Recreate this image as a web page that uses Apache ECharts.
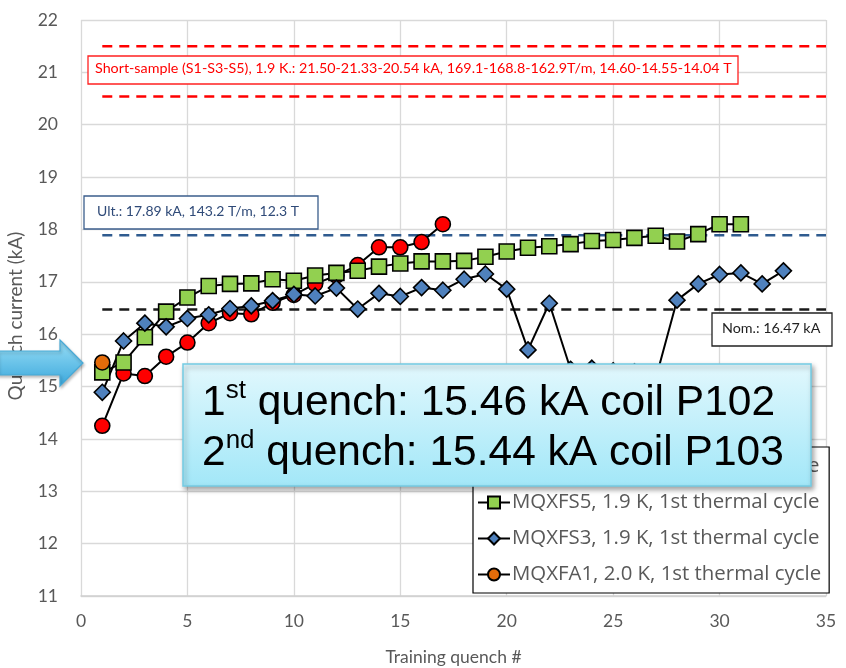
<!DOCTYPE html>
<html>
<head>
<meta charset="utf-8">
<script src="https://cdn.jsdelivr.net/npm/echarts@6/dist/echarts.min.js"></script>
<style>
  html, body { margin: 0; padding: 0; background: #fff; }
  #chart { width: 846px; height: 668px; }
</style>
</head>
<body>
<div id="chart"></div>
<script>
// Training quench currents (kA), one entry per quench, quench # = index + 1
const mqxfs1 = [14.25, 15.25, 15.20, 15.57, 15.84, 16.21, 16.40, 16.38, 16.60, 16.75,
                16.96, 17.12, 17.32, 17.66, 17.66, 17.76, 18.10];
const mqxfs5 = [15.27, 15.46, 15.94, 16.43, 16.70, 16.92, 16.96, 16.97, 17.05, 17.02,
                17.12, 17.17, 17.21, 17.29, 17.35, 17.39, 17.39, 17.40, 17.48, 17.58,
                17.65, 17.68, 17.72, 17.78, 17.80, 17.84, 17.88, 17.77, 17.91, 18.10,
                18.10];
const mqxfs3 = [14.89, 15.87, 16.21, 16.14, 16.30, 16.37, 16.49, 16.54, 16.64, 16.76,
                16.73, 16.88, 16.48, 16.78, 16.72, 16.89, 16.84, 17.05, 17.15, 16.86,
                15.70, 16.59, 15.33, 15.35, 15.30, 15.28, 15.15, 16.65, 16.96, 17.14,
                17.17, 16.96, 17.21];
const mqxfa1 = [15.46];

const seriesNames = [
  'MQXFS1, 1.9 K, 1st thermal cycle',
  'MQXFS5, 1.9 K, 1st thermal cycle',
  'MQXFS3, 1.9 K, 1st thermal cycle',
  'MQXFA1, 2.0 K, 1st thermal cycle'
];

// Reference levels (kA)
const shortSampleLevels = [21.50, 20.54];
const ultimateLevel = 17.89;
const nominalLevel = 16.47;
const refStart = 1, refEnd = 35;

const xTicks = { min: 0, max: 35, interval: 5 };
const yTicks = { min: 11, max: 22, interval: 1 };

const FONT = 'Lato, "Open Sans", sans-serif';
const LEGEND_FONT = '"Open Sans", Lato, sans-serif';
const GREY = '#595959';

function toPoints(values) {
  return values.map((v, i) => [i + 1, v]);
}

function refLine(level, color) {
  return {
    type: 'line',
    data: [[refStart, level], [refEnd, level]],
    symbol: 'none',
    silent: true,
    lineStyle: { color: color, width: 2.5, type: [10, 7] },
    z: 1
  };
}

function quenchSeries(name, values, symbol, size, fill) {
  return {
    name: name,
    type: 'line',
    data: toPoints(values),
    symbol: symbol,
    symbolSize: size,
    showAllSymbol: true,
    lineStyle: { color: '#000', width: 2 },
    itemStyle: { color: fill, borderColor: '#000', borderWidth: 1.6 },
    z: 3
  };
}

const chart = echarts.init(document.getElementById('chart'), null, { renderer: 'canvas' });

const option = {
  animation: false,
  backgroundColor: '#fff',
  grid: { left: 81, right: 20, top: 20, bottom: 72, containLabel: false, outerBoundsMode: 'none' },
  xAxis: {
    type: 'value',
    min: xTicks.min, max: xTicks.max, interval: xTicks.interval,
    name: 'Training quench #',
    nameLocation: 'middle',
    nameGap: 52,
    nameTextStyle: { color: GREY, fontSize: 17.5, fontFamily: FONT },
    axisLine: { show: true, lineStyle: { color: '#d0d0d0', width: 1.5 } },
    axisTick: { show: false },
    axisLabel: { color: GREY, fontSize: 17.5, fontFamily: FONT, margin: 16 },
    splitLine: { show: true, lineStyle: { color: '#d9d9d9', width: 1.3 } }
  },
  yAxis: {
    type: 'value',
    min: yTicks.min, max: yTicks.max, interval: yTicks.interval,
    name: 'Quench current (kA)',
    nameLocation: 'middle',
    nameGap: 56,
    nameTextStyle: { color: GREY, fontSize: 19, fontFamily: FONT, padding: [0, 16, 0, 0] },
    axisLine: { show: false },
    axisTick: { show: false },
    axisLabel: { color: GREY, fontSize: 17.5, fontFamily: FONT, margin: 23 },
    splitLine: { show: true, lineStyle: { color: '#d9d9d9', width: 1.3 } }
  },
  legend: {
    orient: 'vertical',
    left: 473,
    top: 447,
    data: seriesNames,
    itemWidth: 32,
    itemHeight: 15,
    itemGap: 15,
    padding: [9, 8, 8, 4],
    backgroundColor: '#fff',
    borderColor: '#000',
    borderWidth: 1.2,
    textStyle: { color: GREY, fontSize: 20.4, fontFamily: LEGEND_FONT, lineHeight: 21, padding: [0, 0, 0, -3] },
    selectedMode: false,
    z: 5
  },
  series: [
    refLine(shortSampleLevels[0], '#ff0000'),
    refLine(shortSampleLevels[1], '#ff0000'),
    refLine(ultimateLevel, '#2f5b8f'),
    refLine(nominalLevel, '#1a1a1a'),
    quenchSeries(seriesNames[0], mqxfs1, 'circle', 15, '#ff0000'),
    quenchSeries(seriesNames[1], mqxfs5, 'rect', 15, '#92d050'),
    quenchSeries(seriesNames[2], mqxfs3, 'diamond', 16, '#4f81bd'),
    quenchSeries(seriesNames[3], mqxfa1, 'circle', 15, '#e46c0a')
  ],
  graphic: [
    // Short-sample limit label
    {
      type: 'rect', z: 50,
      shape: { x: 88, y: 56, width: 650, height: 28 },
      style: { fill: '#fff', stroke: '#ff2020', lineWidth: 1.3 }
    },
    {
      type: 'text', z: 51, left: 95, top: 61,
      style: {
        text: 'Short-sample (S1-S3-S5), 1.9 K.: 21.50-21.33-20.54 kA, 169.1-168.8-162.9T/m, 14.60-14.55-14.04 T',
        fill: '#ff0000', font: '14.3px ' + FONT
      }
    },
    // Ultimate current label
    {
      type: 'rect', z: 50,
      shape: { x: 84, y: 196, width: 234, height: 33 },
      style: { fill: '#fff', stroke: '#3b5e8c', lineWidth: 1.3 }
    },
    {
      type: 'text', z: 51, left: 97, top: 204,
      style: { text: 'Ult.: 17.89 kA, 143.2 T/m, 12.3 T', fill: '#2f4a78', font: '14px ' + FONT }
    },
    // Nominal current label
    {
      type: 'rect', z: 50,
      shape: { x: 712, y: 313, width: 120, height: 33 },
      style: { fill: '#fff', stroke: '#222', lineWidth: 1.3 }
    },
    {
      type: 'text', z: 51, left: 722, top: 321,
      style: { text: 'Nom.: 16.47 kA', fill: '#222', font: '14.3px ' + FONT }
    },
    // Callout with first quench values
    {
      type: 'rect', z: 100,
      shape: { x: 183, y: 364, width: 628, height: 122 },
      style: {
        fill: new echarts.graphic.LinearGradient(0, 0, 0, 1, [
          { offset: 0, color: '#e2f8fd' },
          { offset: 1, color: '#a2e7f8' }
        ]),
        stroke: '#74cbe3', lineWidth: 1.5,
        shadowBlur: 5, shadowOffsetX: 2, shadowOffsetY: 3, shadowColor: 'rgba(0,0,0,0.35)'
      }
    },
    {
      type: 'text', z: 101, left: 202, top: 378,
      style: {
        text: '{n|1}{s|st}{n| quench: 15.46 kA coil P102}\n{n|2}{s|nd}{n| quench: 15.44 kA coil P103}',
        fill: '#000',
        rich: {
          n: { fontSize: 42.5, fontFamily: 'Liberation Sans, Arial, sans-serif', lineHeight: 50, fill: '#000' },
          s: { fontSize: 26, fontFamily: 'Liberation Sans, Arial, sans-serif', lineHeight: 50, fill: '#000', verticalAlign: 'top', padding: [0, 0, 15, 0] }
        }
      }
    },
    // Pointer arrow toward quench #1
    {
      type: 'polygon', z: 100,
      shape: { points: [[-2, 351], [60, 351], [60, 340], [83, 363], [60, 386], [60, 375], [-2, 375]] },
      style: {
        fill: new echarts.graphic.LinearGradient(0, 0, 0, 1, [
          { offset: 0, color: '#9adff6' },
          { offset: 1, color: '#3aa7dc' }
        ]),
        stroke: '#48a9d6', lineWidth: 1.2,
        shadowBlur: 3, shadowOffsetX: 1, shadowOffsetY: 2, shadowColor: 'rgba(0,0,0,0.25)'
      }
    }
  ]
};

chart.setOption(option);
</script>
</body>
</html>
